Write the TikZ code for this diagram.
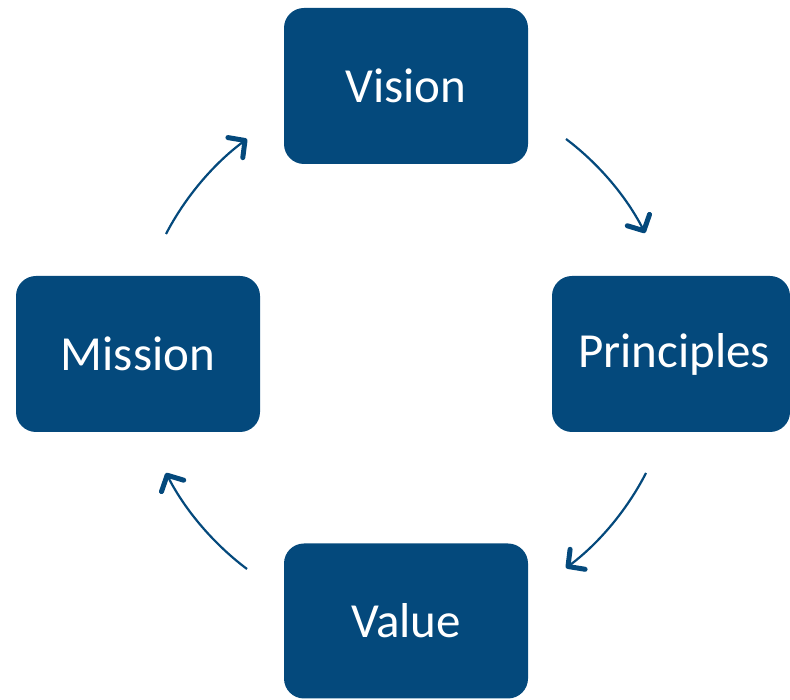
\documentclass[tikz,border=0pt]{standalone}
\usepackage{fontspec}
\setmainfont{Carlito}
\usetikzlibrary{arrows.meta}
\definecolor{boxblue}{RGB}{4,73,124}
\begin{document}
\begin{tikzpicture}[x=1pt,y=1pt,
  stage/.style={fill=boxblue,text=white,rounded corners=20pt,inner sep=0pt,
    minimum width=244pt,minimum height=156pt,font=\fontsize{49}{58}\selectfont},
  turn/.style={draw=boxblue,line width=2.2pt,bend left=13,looseness=0.85,
    -{Straight Barb[length=12pt,width=25pt,line width=5pt,round]}}]
\useasboundingbox (0,0) rectangle (790,700);

\node[stage] (vision) at (406,614) {Vision};
\node[stage,minimum width=238pt] (principles) at (671,346) {\hspace{6pt}Principles};
\node[stage,minimum height=155pt] (value) at (406,79) {Value};
\node[stage] (mission) at (138,346) {Mission};

\coordinate (visionout) at (566,561);
\coordinate (principlesin) at (645,467);
\coordinate (principlesout) at (646,227);
\coordinate (valuein) at (566,132);
\coordinate (valueout) at (247,131);
\coordinate (missionin) at (166,227);
\coordinate (missionout) at (166,466);
\coordinate (visionin) at (247,561);

\draw[turn] (visionout) to (principlesin);
\draw[turn] (principlesout) to (valuein);
\draw[turn] (valueout) to (missionin);
\draw[turn] (missionout) to (visionin);
\end{tikzpicture}
\end{document}
